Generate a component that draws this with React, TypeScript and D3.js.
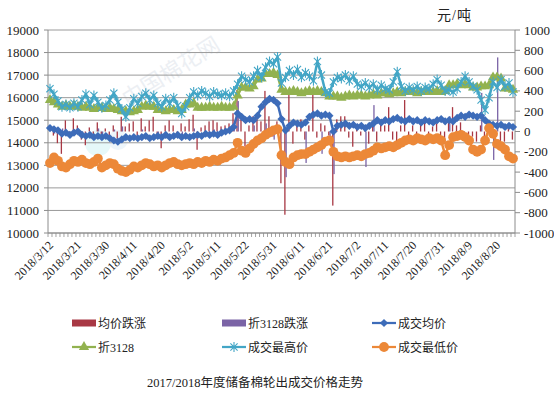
import { line, scaleBand, scaleLinear, symbol, symbolTriangle } from 'd3'

// trading days of the reserve cotton auction
const dates = [
  '2018/3/12', '2018/3/13', '2018/3/14', '2018/3/15', '2018/3/16',
  '2018/3/19', '2018/3/20', '2018/3/21', '2018/3/22', '2018/3/23',
  '2018/3/26', '2018/3/27', '2018/3/28', '2018/3/29', '2018/3/30',
  '2018/4/2', '2018/4/3', '2018/4/4', '2018/4/8', '2018/4/9',
  '2018/4/10', '2018/4/11', '2018/4/12', '2018/4/13', '2018/4/16',
  '2018/4/17', '2018/4/18', '2018/4/19', '2018/4/20', '2018/4/23',
  '2018/4/24', '2018/4/25', '2018/4/26', '2018/4/27', '2018/4/28',
  '2018/5/2', '2018/5/3', '2018/5/4', '2018/5/7', '2018/5/8',
  '2018/5/9', '2018/5/10', '2018/5/11', '2018/5/14', '2018/5/15',
  '2018/5/16', '2018/5/17', '2018/5/18', '2018/5/21', '2018/5/22',
  '2018/5/23', '2018/5/24', '2018/5/25', '2018/5/28', '2018/5/29',
  '2018/5/30', '2018/5/31', '2018/6/1', '2018/6/4', '2018/6/5',
  '2018/6/6', '2018/6/7', '2018/6/8', '2018/6/11', '2018/6/12',
  '2018/6/13', '2018/6/14', '2018/6/15', '2018/6/19', '2018/6/20',
  '2018/6/21', '2018/6/22', '2018/6/25', '2018/6/26', '2018/6/27',
  '2018/6/28', '2018/6/29', '2018/7/2', '2018/7/3', '2018/7/4',
  '2018/7/5', '2018/7/6', '2018/7/9', '2018/7/10', '2018/7/11',
  '2018/7/12', '2018/7/13', '2018/7/16', '2018/7/17', '2018/7/18',
  '2018/7/19', '2018/7/20', '2018/7/23', '2018/7/24', '2018/7/25',
  '2018/7/26', '2018/7/27', '2018/7/30', '2018/7/31', '2018/8/1',
  '2018/8/2', '2018/8/3', '2018/8/6', '2018/8/7', '2018/8/8',
  '2018/8/9', '2018/8/10', '2018/8/13', '2018/8/14', '2018/8/15',
  '2018/8/16', '2018/8/17', '2018/8/20', '2018/8/21', '2018/8/22',
  '2018/8/23', '2018/8/24',
]

// 均价跌涨 (right axis)
const avgChange = [
  0, -40, -115, -220, 110, -40, 130, 60, -80, -135,
  40, -50, 90, -60, 30, -40, 60, -70, 145, 50,
  80, 100, -40, 130, 50, 110, 145, -50, -165, 60,
  110, 60, -30, 80, 50, 120, 165, -180, 40, 60,
  100, 110, 90, 50, 60, 80, 180, 410, 120, -150,
  60, 150, 150, 100, 400, 150, -50, 100, -510, -820,
  390, -120, 100, 120, -80, 60, 400, -60, 80, 60,
  -40, -730, 120, 150, 150, -60, -150, 60, -40, 50,
  -120, 60, -100, 80, 60, 240, -80, -120, 60, 310,
  -50, 60, -100, 80, 120, -60, 50, 80, -50, -120,
  100, 240, 60, 90, -60, -80, -50, -100, 60, -120,
  100, -60, -50, -120, -100, 60, -80,
]

// 折3128跌涨 (right axis)
const baseChange = [
  0, -20, 0, 30, 0, 0, 20, 0, -30, 0,
  0, 0, 30, -50, 0, 0, 20, 0, 50, 0,
  0, 0, 0, 20, 0, 0, 0, -30, 0, 0,
  0, 0, 0, -40, 0, 0, 30, 0, 0, 0,
  0, 20, 0, 0, 0, 0, 50, 300, 0, 0,
  0, 60, 0, 0, 80, 0, -80, 0, 0, -450,
  0, 0, 0, 0, -310, 0, 0, 0, -220, 0,
  -100, -420, 0, 0, 0, 0, 0, 0, 0, -350,
  0, 260, 0, 0, 0, 0, 0, 0, 0, 0,
  0, 0, 0, 0, 0, 0, 0, 0, 0, 0,
  150, 0, 0, 0, 0, 0, 0, 0, 380, 0,
  0, -280, 730, 0, 0, 0, 0,
]

// 成交均价
const avgPrice = [
  14650, 14600, 14550, 14400, 14450, 14350, 14450, 14500, 14350, 14300,
  14350, 14250, 14300, 14250, 14300, 14200, 14100, 14050, 14150, 14250,
  14200, 14250, 14200, 14250, 14300, 14200, 14250, 14300, 14250, 14350,
  14250, 14300, 14350, 14250, 14300, 14250, 14300, 14350, 14300, 14400,
  14350, 14400, 14350, 14450, 14500, 14550, 14700, 15300, 15150, 15000,
  15050, 15000, 15200, 15600, 15800, 15950, 15900, 15750, 15050, 14550,
  14750, 14900, 14850, 14800, 14900, 15150, 15250, 15300, 15200, 15250,
  15200, 14500, 14750, 14800, 14850, 14750, 14800, 14700, 14750, 14650,
  14750, 14850, 15000, 14900, 15000, 14950, 15050, 15100, 15000, 14950,
  15050, 14950, 15000, 14900, 15000, 14950, 14900, 15000, 15050, 14950,
  15000, 14950, 15100, 15200, 15150, 15250, 15200, 15150, 15200, 15000,
  14850, 14800, 14750, 14800, 14700, 14750, 14700,
]

// 折3128
const basePrice = [
  15900, 15800, 15700, 15600, 15650, 15600, 15650, 15600, 15550, 15600,
  15550, 15500, 15550, 15550, 15500, 15550, 15500, 15450, 15400, 15400,
  15350, 15400, 15450, 15600, 15650, 15600, 15600, 15450, 15450, 15400,
  15450, 15450, 15400, 15450, 15700, 15700, 15750, 15550, 15550, 15550,
  15600, 15550, 15550, 15600, 15550, 15550, 15600, 16100, 16450, 16450,
  16400, 16500, 16800, 16850, 17050, 17050, 17100, 17000, 16350, 16250,
  16250, 16300, 16250, 16200, 16250, 16300, 16250, 16300, 16250, 16200,
  16050, 16050, 16050, 16000, 16050, 16100, 16050, 16100, 16100, 16050,
  16100, 16150, 16100, 16200, 16200, 16150, 16200, 16250, 16200, 16250,
  16250, 16250, 16200, 16250, 16300, 16250, 16250, 16300, 16250, 16300,
  16550, 16550, 16600, 16550, 16600, 16550, 16450, 16450, 16500, 16500,
  16550, 16900, 16900, 16850, 16400, 16400, 16350,
]

// 成交最高价
const highPrice = [
  16400, 16150, 15850, 15600, 15700, 15550, 15750, 15600, 15900, 16150,
  15700, 16100, 15800, 15550, 15650, 15900, 16200, 15800, 15500, 15150,
  15550, 15950, 15750, 16050, 16200, 15900, 16100, 15750, 15600, 15950,
  15750, 16000, 15650, 15300, 15600, 16000, 16250, 16100, 16300, 16200,
  16050, 16250, 16150, 16100, 16200, 16050, 16300, 16600, 16950, 16800,
  16700, 16950, 17200, 16900, 17350, 17600, 17500, 17800, 16650, 16900,
  17200, 17000, 17250, 16900, 17100, 16950, 16750, 17600, 17000, 16250,
  16200, 16700, 16900, 16850, 17000, 16750, 16950, 16600, 16500, 16650,
  16450, 16600, 16350, 16550, 16400, 16350, 16700, 17150, 16500, 16300,
  16450, 16350, 16500, 16300, 16450, 16400, 16600, 16800, 16550, 16300,
  16350, 16250, 16400, 16700, 16950, 16700, 16500, 16350, 15900, 15450,
  16000, 16700, 16450, 16800, 16500, 16650, 16250,
]

// 成交最低价
const lowPrice = [
  13100, 13350, 13200, 12950, 12900, 13050, 13200, 13150, 13250, 13100,
  13050, 13150, 13300, 12900, 13000, 13100, 13050, 12850, 12750, 12700,
  12800, 12950, 12900, 13000, 13100, 13050, 12950, 13000, 12900, 13000,
  13100, 13150, 13050, 13000, 13050, 13100, 13050, 13150, 13100, 13200,
  13150, 13250, 13200, 13300, 13350, 13450, 13550, 14000, 13650, 13550,
  13750, 13950, 14100, 14200, 14350, 14450, 14550, 14600, 13450, 13150,
  13050, 13350, 13450, 13500, 13500, 13600, 13700, 13800, 13900, 14050,
  14100, 13600, 13400, 13350, 13400, 13350, 13400, 13450, 13400, 13500,
  13550, 13650, 13800, 13750, 13800, 13850, 13800, 13900, 14000, 14100,
  14150, 14100, 14200, 14150, 14100, 14200, 14150, 14200, 14100, 13450,
  13900, 14250, 14300, 14350, 14250, 14100, 13700, 13600, 13700, 14100,
  14650, 14400, 13950, 13850, 13700, 13400, 13300,
]

const leftTicks = [10000, 11000, 12000, 13000, 14000, 15000, 16000, 17000, 18000, 19000]
const rightTicks = [-1000, -800, -600, -400, -200, 0, 200, 400, 600, 800, 1000]

const colors = {
  avgChange: '#A83844',
  baseChange: '#7B64A6',
  avgPrice: '#3D6CB9',
  basePrice: '#92B24F',
  highPrice: '#43A6C6',
  lowPrice: '#EC8838',
}

const serif = "'Liberation Serif', 'Noto Sans CJK SC', serif"

function diamondPath(r: number) {
  return `M0,${-r}L${r},0L0,${r}L${-r},0Z`
}

function asteriskPath(r: number) {
  const d = r * 0.72
  return `M0,${-r}V${r}M${-d},${-d}L${d},${d}M${-d},${d}L${d},${-d}`
}

type Marker = 'diamond' | 'triangle' | 'asterisk' | 'circle'

function MarkerShape({ kind, color }: { kind: Marker; color: string }) {
  if (kind === 'diamond') return <path d={diamondPath(4.1)} fill={color} />
  if (kind === 'triangle') return <path d={symbol(symbolTriangle, 46)() ?? ''} fill={color} />
  if (kind === 'asterisk') return <path d={asteriskPath(5)} stroke={color} strokeWidth={1.1} fill="none" />
  return <circle r={4.9} fill={color} />
}

export default function App() {
  const width = 554
  const height = 399
  const plotLeft = 48
  const plotRight = 515
  const plotTop = 30
  const plotBottom = 233

  const x = scaleBand<string>().domain(dates).range([plotLeft, plotRight])
  const bw = x.bandwidth()
  const sub = scaleBand<string>()
    .domain(['avg', 'base'])
    .range([0, bw])
    .paddingInner(0)
    .paddingOuter(0.6)
  const yLeft = scaleLinear().domain([10000, 19000]).range([plotBottom, plotTop])
  const yRight = scaleLinear().domain([-1000, 1000]).range([plotBottom, plotTop])
  const cx = (i: number) => (x(dates[i]) ?? 0) + bw / 2

  const lineGen = line<number>()
    .x((_, i) => cx(i))
    .y((v) => yLeft(v))

  const lineSeries = [
    { key: 'avgPrice', values: avgPrice, color: colors.avgPrice, marker: 'diamond' as Marker },
    { key: 'basePrice', values: basePrice, color: colors.basePrice, marker: 'triangle' as Marker },
    { key: 'highPrice', values: highPrice, color: colors.highPrice, marker: 'asterisk' as Marker },
    { key: 'lowPrice', values: lowPrice, color: colors.lowPrice, marker: 'circle' as Marker },
  ]

  const barSeries = [
    { key: 'avg', values: avgChange, color: colors.avgChange },
    { key: 'base', values: baseChange, color: colors.baseChange },
  ]

  const legendItems = [
    { label: '均价跌涨', color: colors.avgChange, marker: null, col: 0, row: 0 },
    { label: '折3128跌涨', color: colors.baseChange, marker: null, col: 1, row: 0 },
    { label: '成交均价', color: colors.avgPrice, marker: 'diamond' as Marker, col: 2, row: 0 },
    { label: '折3128', color: colors.basePrice, marker: 'triangle' as Marker, col: 0, row: 1 },
    { label: '成交最高价', color: colors.highPrice, marker: 'asterisk' as Marker, col: 1, row: 1 },
    { label: '成交最低价', color: colors.lowPrice, marker: 'circle' as Marker, col: 2, row: 1 },
  ]
  const legendCols = [72, 222, 372]
  const legendRows = [323, 347]

  const step = x.step()

  return (
    <svg
      width={width}
      height={height}
      viewBox={`0 0 ${width} ${height}`}
      style={{ position: 'absolute', left: 0, top: 0, background: '#fff' }}
    >
      {/* faint watermark */}
      <g opacity={0.35}>
        <text
          x={175}
          y={78}
          transform="rotate(-32 175 78)"
          textAnchor="middle"
          fontSize={22}
          fontFamily="'Noto Sans CJK SC', sans-serif"
          fill="#c9d2de"
        >
          中国棉花网
        </text>
        <circle cx={98} cy={143} r={13} fill="#b8ecef" />
        <circle cx={118} cy={140} r={10} fill="#cde3f5" />
      </g>

      {/* gridlines */}
      {leftTicks.map((t) => (
        <line key={t} x1={plotLeft} x2={plotRight} y1={yLeft(t)} y2={yLeft(t)} stroke="#9a9a9a" strokeWidth={1} />
      ))}

      {/* axes */}
      <line x1={plotLeft} x2={plotLeft} y1={plotTop} y2={plotBottom} stroke="#8c8c8c" />
      <line x1={plotRight} x2={plotRight} y1={plotTop} y2={plotBottom} stroke="#8c8c8c" />
      <line x1={plotLeft} x2={plotRight} y1={plotBottom} y2={plotBottom} stroke="#8c8c8c" />

      {leftTicks.map((t) => (
        <g key={t}>
          <line x1={plotLeft - 4} x2={plotLeft} y1={yLeft(t)} y2={yLeft(t)} stroke="#8c8c8c" />
          <text x={39} y={yLeft(t) + 4.5} textAnchor="end" fontSize={13} fontFamily={serif} fill="#222">
            {t}
          </text>
        </g>
      ))}
      {rightTicks.map((t) => (
        <g key={t}>
          <line x1={plotRight} x2={plotRight + 5} y1={yRight(t)} y2={yRight(t)} stroke="#8c8c8c" />
          <text x={524} y={yRight(t) + 4.5} textAnchor="start" fontSize={13} fontFamily={serif} fill="#222">
            {t}
          </text>
        </g>
      ))}

      {/* category ticks */}
      {dates.concat(['']).map((_, k) => (
        <line
          key={k}
          x1={plotLeft + k * step}
          x2={plotLeft + k * step}
          y1={plotBottom}
          y2={plotBottom + 4}
          stroke="#8c8c8c"
          strokeWidth={0.8}
        />
      ))}
      {dates.map((d, i) =>
        i % 7 === 0 ? (
          <text
            key={d}
            transform={`translate(${cx(i) + 4},${plotBottom + 13}) rotate(-45)`}
            textAnchor="end"
            fontSize={12}
            fontFamily={serif}
            fill="#222"
          >
            {d}
          </text>
        ) : null,
      )}

      {/* change columns */}
      {barSeries.map((s) => (
        <g key={s.key} fill={s.color}>
          {s.values.map((v, i) => {
            const y0 = yRight(0)
            const y1 = yRight(v)
            return (
              <rect
                key={i}
                x={(x(dates[i]) ?? 0) + (sub(s.key) ?? 0)}
                width={Math.max(sub.bandwidth(), 1.3)}
                y={Math.min(y0, y1)}
                height={Math.abs(y1 - y0)}
              />
            )
          })}
        </g>
      ))}

      {/* price lines */}
      {lineSeries.map((s) => (
        <g key={s.key}>
          <path d={lineGen(s.values) ?? ''} fill="none" stroke={s.color} strokeWidth={2.5} strokeLinejoin="round" />
          {s.values.map((v, i) => (
            <g key={i} transform={`translate(${cx(i)},${yLeft(v)})`}>
              <MarkerShape kind={s.marker} color={s.color} />
            </g>
          ))}
        </g>
      ))}

      <text x={437} y={20} fontSize={14} fontFamily={serif} fill="#222" letterSpacing={1}>
        元/吨
      </text>

      {/* legend */}
      {legendItems.map((item) => {
        const lx = legendCols[item.col]
        const ly = legendRows[item.row]
        return (
          <g key={item.label}>
            {item.marker === null ? (
              <rect x={lx} y={ly - 3.5} width={24} height={7} fill={item.color} />
            ) : (
              <g>
                <line x1={lx} x2={lx + 24} y1={ly} y2={ly} stroke={item.color} strokeWidth={2.25} />
                <g transform={`translate(${lx + 12},${ly})`}>
                  <MarkerShape kind={item.marker} color={item.color} />
                </g>
              </g>
            )}
            <text x={lx + 26} y={ly + 4.5} fontSize={12} fontFamily={serif} fill="#222">
              {item.label}
            </text>
          </g>
        )
      })}

      <text x={255} y={387} textAnchor="middle" fontSize={12.5} fontFamily={serif} fill="#222">
        2017/2018年度储备棉轮出成交价格走势
      </text>
    </svg>
  )
}
